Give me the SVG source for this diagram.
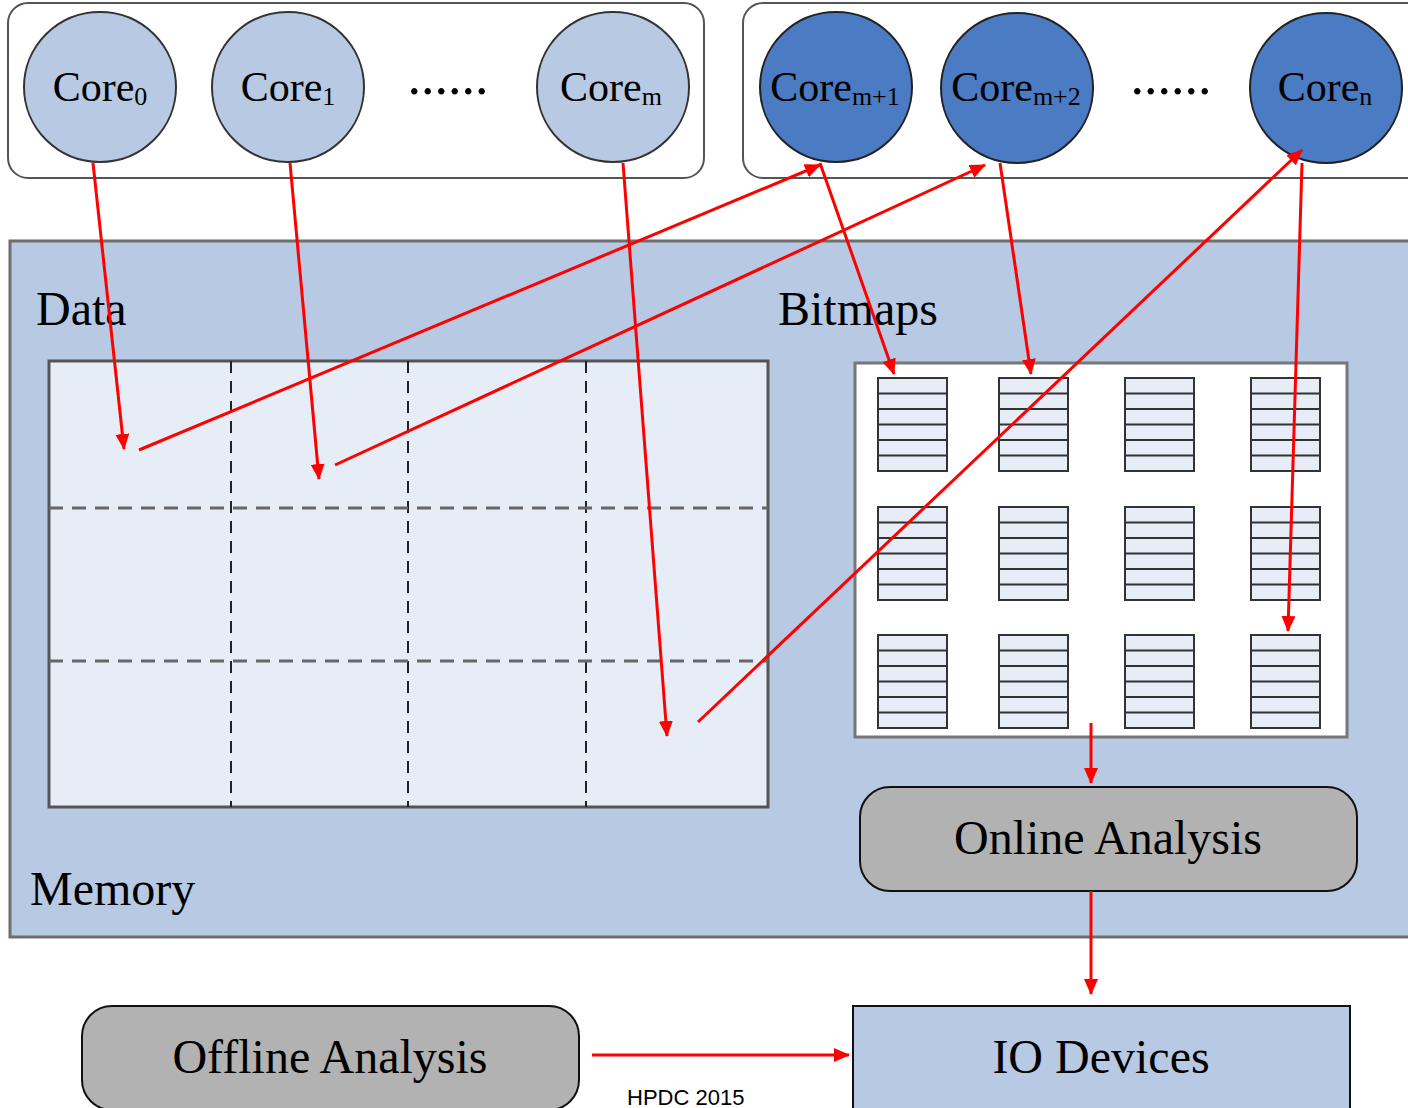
<svg xmlns="http://www.w3.org/2000/svg" width="1408" height="1108" viewBox="0 0 1408 1108">
<style>
.cont{fill:#fff;stroke:#555;stroke-width:2}
.cl{fill:#B7C9E3;stroke:#333;stroke-width:2}
.cd{fill:#4A7BC3;stroke:#222;stroke-width:2}
.t{font-family:"Liberation Serif","Times New Roman",serif;fill:#000}
.ct{font-size:42px}
.sub{font-size:26px}
.big{font-size:48px}
.dots{font-size:54px}
.blk{fill:#E6EDF7;stroke:#333;stroke-width:2}
.stripe{stroke:#333;stroke-width:2}
.ar{stroke:#FF0000;stroke-width:3;fill:none;marker-end:url(#ah)}
</style>
<defs>
<marker id="ah" markerUnits="userSpaceOnUse" markerWidth="16" markerHeight="14" refX="15" refY="7" orient="auto">
<path d="M0,0 L16,7 L0,14 Z" fill="#FF0000"/>
</marker>
<g id="bm">
<rect class="blk" x="0" y="0" width="69" height="93"/>
<path class="stripe" d="M0,15.5H69M0,31H69M0,46.5H69M0,62H69M0,77.5H69"/>
</g>
</defs>

<g id="memory">
<rect x="10" y="241" width="1410" height="696" fill="#B7C9E3" stroke="#6E6E6E" stroke-width="3"/>
<text class="t big" x="30" y="905">Memory</text>
</g>

<g id="data">
<text class="t big" x="36" y="325">Data</text>
<rect x="49" y="361" width="719" height="446" fill="#E6EDF7" stroke="#555" stroke-width="3"/>
<path d="M231,361V807M408,361V807M586,361V807" stroke="#222" stroke-width="2" stroke-dasharray="12,8"/>
<path d="M49,508H768M49,661H768" stroke="#666" stroke-width="3" stroke-dasharray="14,9"/>
</g>

<g id="bitmaps">
<text class="t big" x="778" y="325">Bitmaps</text>
<rect x="855" y="363" width="492" height="374" fill="#fff" stroke="#777" stroke-width="3"/>
<use href="#bm" x="878" y="378"/><use href="#bm" x="999" y="378"/><use href="#bm" x="1125" y="378"/><use href="#bm" x="1251" y="378"/>
<use href="#bm" x="878" y="507"/><use href="#bm" x="999" y="507"/><use href="#bm" x="1125" y="507"/><use href="#bm" x="1251" y="507"/>
<use href="#bm" x="878" y="635"/><use href="#bm" x="999" y="635"/><use href="#bm" x="1125" y="635"/><use href="#bm" x="1251" y="635"/>
</g>

<g id="cores-left">
<rect class="cont" x="8" y="3" width="696" height="175" rx="20"/>
<g id="core0"><ellipse class="cl" cx="100" cy="87" rx="76" ry="75"/>
<text class="t ct" x="100" y="101" text-anchor="middle">Core<tspan class="sub" dy="4">0</tspan></text></g>
<g id="core1"><ellipse class="cl" cx="288" cy="87" rx="76" ry="75"/>
<text class="t ct" x="288" y="101" text-anchor="middle">Core<tspan class="sub" dy="4">1</tspan></text></g>
<text class="t dots" x="448" y="94" text-anchor="middle">......</text>
<g id="corem"><ellipse class="cl" cx="613" cy="87" rx="76" ry="75"/>
<text class="t ct" x="611" y="101" text-anchor="middle">Core<tspan class="sub" dy="4">m</tspan></text></g>
</g>

<g id="cores-right">
<rect class="cont" x="743" y="3" width="690" height="175" rx="20"/>
<g id="corem1"><ellipse class="cd" cx="836" cy="87" rx="76" ry="75"/>
<text class="t ct" x="835" y="101" text-anchor="middle">Core<tspan class="sub" dy="4">m+1</tspan></text></g>
<g id="corem2"><ellipse class="cd" cx="1017" cy="88" rx="76" ry="75"/>
<text class="t ct" x="1016" y="101" text-anchor="middle">Core<tspan class="sub" dy="4">m+2</tspan></text></g>
<text class="t dots" x="1171" y="94" text-anchor="middle">......</text>
<g id="coren"><ellipse class="cd" cx="1326" cy="88" rx="76" ry="75"/>
<text class="t ct" x="1325" y="101" text-anchor="middle">Core<tspan class="sub" dy="4">n</tspan></text></g>
</g>

<g id="online">
<rect x="860" y="787" width="497" height="104" rx="30" fill="#B2B2B2" stroke="#111" stroke-width="2"/>
<text class="t big" x="1108" y="854" text-anchor="middle">Online Analysis</text>
</g>

<g id="io">
<rect x="853" y="1006" width="497" height="120" fill="#B7C9E3" stroke="#111" stroke-width="2"/>
<text class="t big" x="1101" y="1073" text-anchor="middle">IO Devices</text>
</g>

<g id="offline">
<rect x="82" y="1006" width="497" height="104" rx="30" fill="#B2B2B2" stroke="#111" stroke-width="2"/>
<text class="t big" x="330" y="1073" text-anchor="middle">Offline Analysis</text>
</g>

<g id="connectors">
<line class="ar" x1="93" y1="163" x2="124" y2="449"/>
<line class="ar" x1="290" y1="163" x2="319" y2="479"/>
<line class="ar" x1="623" y1="163" x2="667" y2="736"/>
<line class="ar" x1="139" y1="450" x2="820" y2="165"/>
<line class="ar" x1="335" y1="465" x2="985" y2="165"/>
<line class="ar" x1="698" y1="722" x2="1302" y2="150"/>
<line class="ar" x1="820" y1="163" x2="894" y2="374"/>
<line class="ar" x1="1000" y1="163" x2="1031" y2="374"/>
<line class="ar" x1="1302" y1="163" x2="1288" y2="631"/>
<line class="ar" x1="1091" y1="723" x2="1091" y2="783"/>
<line class="ar" x1="1091" y1="891" x2="1091" y2="994"/>
<line class="ar" x1="592" y1="1055" x2="849" y2="1055"/>
</g>

<text x="627" y="1105" font-family="Liberation Sans,Arial,sans-serif" font-size="22" fill="#000">HPDC 2015</text>
</svg>
